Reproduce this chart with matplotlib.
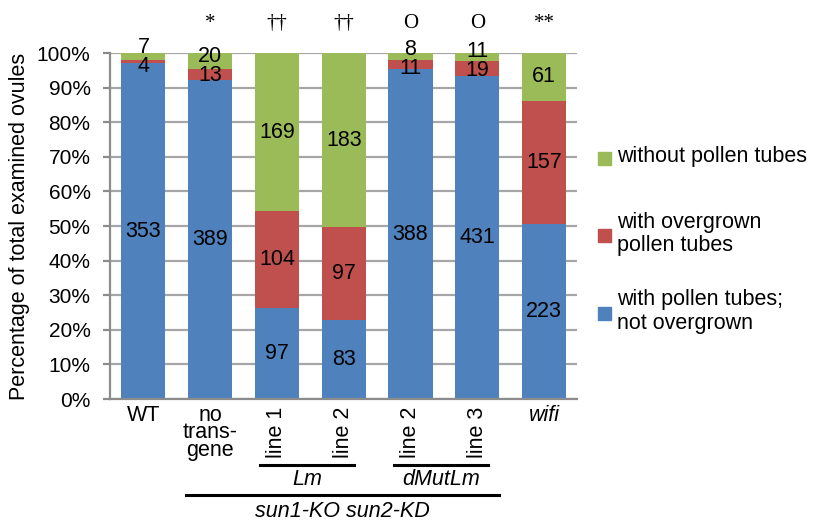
import matplotlib.pyplot as plt
import numpy as np
from matplotlib.patches import Rectangle

plt.rcParams['font.family'] = ['Liberation Sans', 'DejaVu Sans']

# counts per category
groups = ["WT", "no\ntrans-\ngene", "line 1", "line 2", "line 2", "line 3", "wifi"]
rotated = [False, False, True, True, True, True, False]
normal = [353, 389, 97, 83, 388, 431, 223]
overgrown = [4, 13, 104, 97, 11, 19, 157]
without = [7, 20, 169, 183, 8, 11, 61]
marks = ["", "*", "††", "††", "O", "O", "**"]
legend_labels = ["without pollen tubes", "with overgrown\npollen tubes",
                 "with pollen tubes;\nnot overgrown"]

blue = "#4F81BD"
red = "#C0504D"
green = "#9BBB59"
grey = "#8C8C8C"

n = np.array(normal, float)
o = np.array(overgrown, float)
w = np.array(without, float)
tot = n + o + w
pn, po, pw = n / tot * 100, o / tot * 100, w / tot * 100
x = np.arange(len(groups))

fig = plt.figure(figsize=(8.13, 5.21), dpi=100)
ax = fig.add_axes([0.1353, 0.2341, 0.575, 0.6641])

bw = 0.66
ax.bar(x, pn, bw, color=blue, zorder=2)
ax.bar(x, po, bw, bottom=pn, color=red, zorder=2)
ax.bar(x, pw, bw, bottom=pn + po, color=green, zorder=2)

ax.set_xlim(-0.5, len(groups) - 0.5)
ax.set_ylim(0, 100)
ax.set_yticks(np.arange(0, 101, 10))
ax.set_yticklabels([f"{v}%" for v in range(0, 101, 10)], fontsize=15)
ax.yaxis.grid(True, color="#A6A6A6", lw=1.6, zorder=0)
ax.set_xticks([])
for s in ["top", "right"]:
    ax.spines[s].set_visible(False)
for s in ["left", "bottom"]:
    ax.spines[s].set_color(grey)
    ax.spines[s].set_linewidth(1.6)
ax.tick_params(axis="y", colors=grey, length=5, width=1.6, pad=9, labelcolor="black")
ax.set_ylabel("Percentage of total examined ovules", fontsize=15.5, labelpad=5)

# value labels at segment centres, pushed apart when crowded
for i in range(len(groups)):
    c_n = pn[i] / 2
    c_o = pn[i] + po[i] / 2
    c_w = pn[i] + po[i] + pw[i] / 2
    gap = 5.5
    if c_w - c_o < gap:
        mid = (c_o + c_w) / 2 + 0.5
        c_o, c_w = mid - gap / 2, mid + gap / 2
    for val, c in zip([normal[i], overgrown[i], without[i]], [c_n, c_o, c_w]):
        ax.text(x[i], c, str(val), ha="center", va="center", fontsize=15.5, zorder=3)
    ax.text(x[i], 108.5, marks[i], ha="center", va="center", fontsize=15,
            family="Liberation Serif")

# category labels
for i, g in enumerate(groups):
    if rotated[i]:
        ax.text(x[i], -2.3, g, rotation=90, ha="center", va="top", fontsize=15.5)
    else:
        ax.text(x[i], -1.6, g, ha="center", va="top", fontsize=15.5,
                linespacing=0.8, style="italic" if g == "wifi" else "normal")

# group brackets
tr = ax.get_xaxis_transform()
for x0, x1, lab in [(1.75, 3.16, "Lm"), (3.75, 5.16, "dMutLm")]:
    ax.plot([x0, x1], [-0.19, -0.19], color="black", lw=2.2, transform=tr, clip_on=False)
    ax.text((x0 + x1) / 2, -0.233, lab, transform=tr, ha="center", va="center",
            fontsize=15.5, style="italic")
ax.plot([0.64, 5.33], [-0.276, -0.276], color="black", lw=2.2, transform=tr, clip_on=False)
ax.text((0.64 + 5.33) / 2, -0.325, "sun1-KO sun2-KD", transform=tr, ha="center",
        va="center", fontsize=15.5, style="italic")

# legend, entries evenly spaced like the original
sq_w, sq_h = 13 / 813, 13 / 521
for k, (lab, col) in enumerate(zip(legend_labels, [green, red, blue])):
    yc = 1 - (158 + 77.5 * k) / 521
    fig.add_artist(Rectangle((598 / 813, yc - sq_h / 2), sq_w, sq_h, color=col,
                             transform=fig.transFigure))
    fig.text(617 / 813, yc + 1.5 / 521, lab, va="center", ha="left", fontsize=15.5,
             linespacing=1.15)

fig.savefig("out.png", dpi=100)
